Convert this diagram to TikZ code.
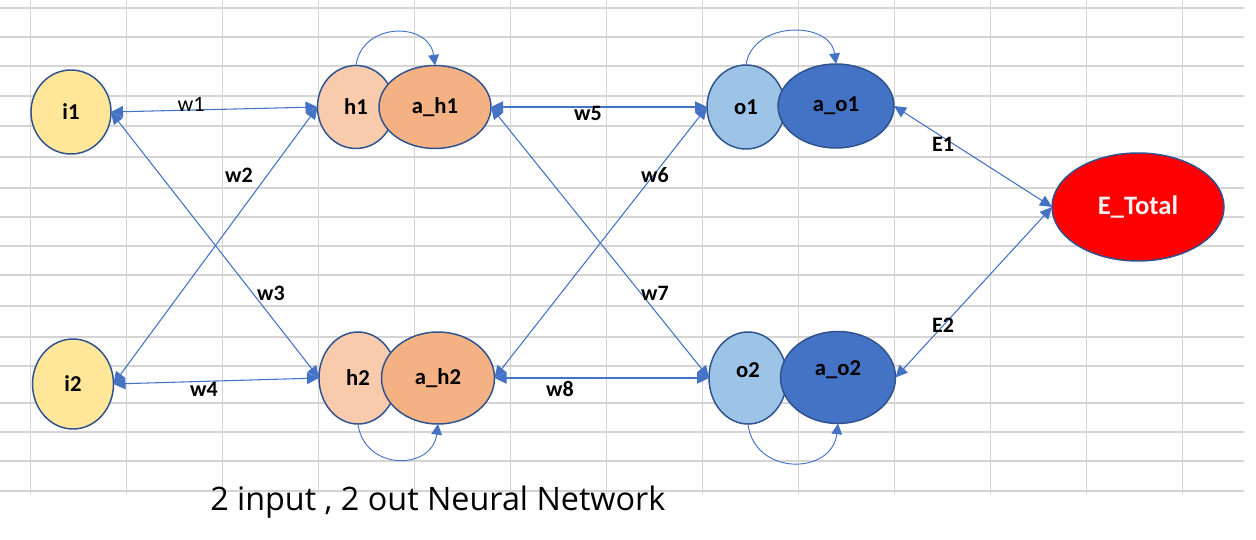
\documentclass[tikz,border=0pt]{standalone}
\usepackage{fontspec}
\setmainfont{Carlito}
\newfontfamily\capfont{Open Sans}
\usetikzlibrary{shapes.geometric,arrows.meta}
\definecolor{gridc}{HTML}{D4D4D4}
\definecolor{edgec}{HTML}{4472C4}
\definecolor{bordc}{HTML}{2F528F}
\definecolor{inpc}{HTML}{FFE699}
\definecolor{hidc}{HTML}{F8CBAD}
\definecolor{hidac}{HTML}{F4B183}
\definecolor{outc}{HTML}{9DC3E6}
\definecolor{outac}{HTML}{4472C4}
\definecolor{totc}{HTML}{FF0000}
\tikzset{
  sz/.style 2 args={minimum width=#1*0.75pt, minimum height=#2*0.75pt},
  unit/.style={ellipse, draw=bordc, line width=1.1pt, inner sep=0pt, outer sep=0pt,
    font=\fontsize{17}{20}\selectfont\bfseries, text=black},
  wlab/.style={font=\fontsize{16.5}{19}\selectfont\bfseries, text=black, inner sep=0pt},
  conn/.style={draw=edgec, line width=0.8pt, {Triangle[length=9pt,width=8.5pt]}-{Triangle[length=9pt,width=8.5pt]}},
  loopc/.style={draw=edgec, line width=0.7pt, -{Triangle[length=8pt,width=8pt]}},
  gridl/.style={draw=gridc, line width=0.8pt}
}
\begin{document}
\begin{tikzpicture}[x=0.75pt,y=-0.75pt]
\useasboundingbox[fill=white] (0,0) rectangle (1256,539);
% spreadsheet grid
\foreach \gx in {30.7,126.7,...,1183} {\draw[gridl] (\gx,0) -- (\gx,494);}
\foreach \gy in {8,37,66,96,126,157,188,217,246,275,306,337,366,403,432,461,491} {\draw[gridl] (0,\gy) -- (1244,\gy);}
% nodes
\node[unit, sz={80}{84}, fill=inpc] (i1) at (71,112) {i1};
\node[unit, sz={81}{90}, fill=inpc] (i2) at (73,384) {i2};
\node[unit, sz={77}{83}, fill=hidc] (h1) at (356,107) {h1};
\node[unit, sz={112}{83}, fill=hidac] (ah1) at (435,107) {a\_h1};
\node[unit, sz={78}{92}, fill=hidc] (h2) at (358,378) {h2};
\node[unit, sz={113}{92}, fill=hidac] (ah2) at (438,378) {a\_h2};
\node[unit, sz={78}{84}, fill=outc] (o1) at (746,107) {o1};
\node[unit, sz={116}{84}, fill=outac] (ao1) at (836,106) {a\_o1};
\node[unit, sz={78}{92}, fill=outc, label={[yshift=6pt, font=\fontsize{17}{20}\selectfont\bfseries]center:o2}] (o2) at (748,378) {};
\node[unit, sz={115}{92}, fill=outac, label={[yshift=6pt, font=\fontsize{17}{20}\selectfont\bfseries]center:a\_o2}] (ao2) at (838,377.5) {};
\node[unit, sz={172}{108}, fill=totc, text={white!95!black}, font=\fontsize{20}{24}\selectfont\bfseries] (tot) at (1138,207) {E\_Total};
% connectors
\draw[conn] (i1.east) -- (h1.west);
\draw[conn] (i1.east) -- (h2.west);
\draw[conn] (i2.east) -- (h1.west);
\draw[conn] (i2.east) -- (h2.west);
\draw[conn] (ah1.east) -- (o1.west);
\draw[conn] (ah1.east) -- (o2.west);
\draw[conn] (ah2.east) -- (o1.west);
\draw[conn] (ah2.east) -- (o2.west);
\draw[conn] (ao1.east) -- (tot.west);
\draw[conn] (ao2.east) -- (tot.west);
% self loops
\draw[loopc] (h1.north) .. controls +(6,-44) and +(-6,-44) .. (ah1.north);
\draw[loopc] (h2.south) .. controls +(6,47) and +(-6,47) .. (ah2.south);
\draw[loopc] (o1.north) .. controls +(6,-44) and +(-6,-44) .. (ao1.north);
\draw[loopc] (o2.south) .. controls +(6,52) and +(-6,52) .. (ao2.south);
% weight labels
\node[wlab, font=\fontsize{16.5}{19}\selectfont] (lw1) at (191,104) {w1};
\node[wlab] (lw2) at (239,175) {w2};
\node[wlab] (lw3) at (271,293) {w3};
\node[wlab] (lw4) at (204,389) {w4};
\node[wlab] (lw5) at (588,113) {w5};
\node[wlab] (lw6) at (655,175) {w6};
\node[wlab] (lw7) at (655,293) {w7};
\node[wlab] (lw8) at (560,389) {w8};
\node[wlab] (le1) at (943,144) {E1};
\node[wlab] (le2) at (943,325) {E2};
% caption
\node[inner sep=0pt, anchor=west] (cap) at (210,502) {\resizebox{341.25pt}{!}{\capfont\fontsize{22}{26}\selectfont 2 input , 2 out Neural Network}};
\end{tikzpicture}
\end{document}
